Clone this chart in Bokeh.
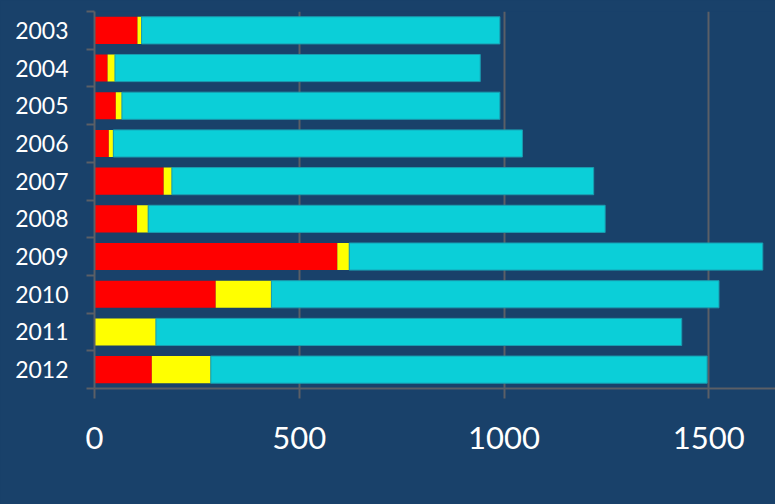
from bokeh.plotting import figure
from bokeh.models import (FactorRange, Range1d, LinearAxis, CategoricalAxis,
                          FixedTicker, Legend, LegendItem, Grid)
from bokeh.embed import file_html
from bokeh.resources import INLINE

years = ["2003", "2004", "2005", "2006", "2007", "2008", "2009", "2010", "2011", "2012"]
fdi = [105, 32, 52, 35, 169, 104, 593, 296, 0, 140]
remit = [10, 18, 15, 11, 20, 27, 29, 136, 150, 144]
oda = [875, 892, 923, 999, 1030, 1116, 1010, 1093, 1284, 1212]
x_ticks = [0, 500, 1000, 1500]
series = ["FDI", "Remit.", "ODA"]

BG = "#19416a"
GRID = "#5b5f66"
FONT = "Lato"

data = dict(year=years, FDI=fdi, Remit=remit, ODA=oda)

p = figure(frame_width=681, frame_height=377, height=530,
           output_backend="svg", toolbar_location=None,
           y_range=FactorRange(*reversed(years)), x_range=Range1d(0, 1663),
           x_axis_location=None, y_axis_location=None,
           min_border_left=94, min_border_right=0, min_border_top=11,
           min_border_bottom=0)
p.background_fill_color = BG
p.border_fill_color = BG
p.outline_line_color = None

renderers = p.hbar_stack(["FDI", "Remit", "ODA"], y="year", height=0.72,
                         color=["#ff0000", "#ffff00", "#0bcfd8"],
                         line_color=[None, None, "#1a9cb0"], line_width=1,
                         source=data)

# y boundary ticks (between the categories) as minor ticks, no labels
tick_axis = LinearAxis(ticker=FixedTicker(ticks=[], minor_ticks=list(range(len(years) + 1))),
                       major_tick_line_color=None,
                       minor_tick_out=8, minor_tick_in=0,
                       minor_tick_line_color=GRID, minor_tick_line_width=2,
                       major_label_standoff=0,
                       axis_line_color=GRID, axis_line_width=2)
p.add_layout(tick_axis, "left")

cat_axis = CategoricalAxis(axis_line_color=None, major_tick_line_color=None,
                           major_label_text_color="white",
                           major_label_text_font=FONT,
                           major_label_text_font_size="23px",
                           major_label_standoff=12)
p.add_layout(cat_axis, "left")

x_axis = LinearAxis(ticker=FixedTicker(ticks=x_ticks),
                    axis_line_color=GRID, major_tick_line_color=GRID,
                    axis_line_width=2, major_tick_line_width=2,
                    major_tick_out=10, major_tick_in=0,
                    minor_tick_line_color=None,
                    major_label_text_color="white",
                    major_label_text_font=FONT,
                    major_label_text_font_size="31px",
                    major_label_standoff=28)
p.add_layout(x_axis, "below")

p.ygrid.grid_line_color = None
p.xgrid.grid_line_color = None
p.add_layout(Grid(dimension=0, ticker=x_axis.ticker, grid_line_color=GRID,
                  grid_line_width=2))

legend = Legend(items=[LegendItem(label=s, renderers=[r]) for s, r in zip(series, renderers)],
                orientation="horizontal", location="top_left",
                glyph_width=24, glyph_height=24, label_standoff=12, spacing=143,
                padding=0, margin=20,
                background_fill_alpha=0, border_line_color=None,
                label_text_color="white", label_text_font=FONT,
                label_text_font_size="33px")
p.add_layout(legend, "below")

html = file_html(p, INLINE)
html = html.replace("<head>", "<head><style>body{background:%s;margin:0;}</style>" % BG, 1)
open("out.html", "w").write(html)
